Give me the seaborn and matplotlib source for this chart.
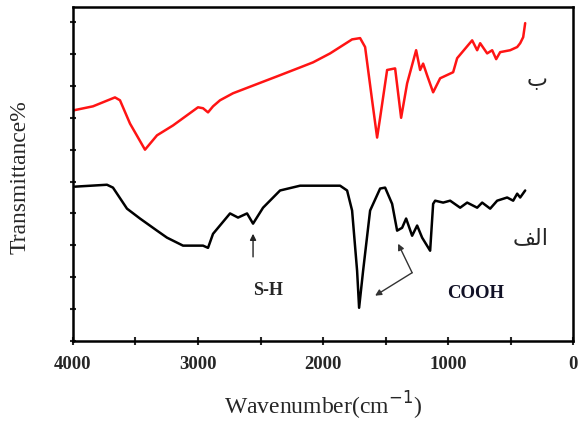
import numpy as np
import pandas as pd
import matplotlib
matplotlib.use("Agg")
import matplotlib.pyplot as plt
import seaborn as sns

# spectrum (b) - red, upper
red_wn = [4000, 3840, 3664, 3624, 3544, 3424, 3328, 3200, 3000, 2960, 2920, 2880,
          2824, 2720, 2448, 2368, 2184, 2080, 1944, 1768, 1704, 1664, 1608, 1568,
          1544, 1488, 1424, 1376, 1328, 1256, 1224, 1200, 1168, 1120, 1064, 960,
          928, 808, 768, 744, 688, 648, 616, 584, 504, 448, 424, 400, 384]
red_t = [72.3, 73.6, 76.4, 75.5, 68.2, 60.0, 64.5, 67.6, 73.3, 73.0, 71.7, 73.6,
         75.5, 77.7, 81.8, 83.0, 85.8, 87.4, 90.2, 94.6, 95.0, 92.2, 75.5, 63.8,
         70.0, 85.0, 85.5, 70.0, 80.8, 91.2, 85.0, 87.0, 83.3, 78.0, 82.4, 84.3,
         88.7, 94.3, 91.2, 93.4, 90.2, 91.2, 88.4, 90.6, 91.2, 92.2, 93.4, 95.3, 99.7]

# spectrum (a) - black, lower
blk_wn = [3984, 3728, 3680, 3568, 3464, 3328, 3248, 3120, 2960, 2920, 2880, 2744,
          2680, 2608, 2560, 2480, 2344, 2184, 1864, 1808, 1768, 1728, 1712, 1680,
          1624, 1544, 1504, 1448, 1408, 1368, 1336, 1288, 1248, 1208, 1144, 1120,
          1104, 1040, 984, 904, 848, 768, 728, 664, 608, 528, 480, 448, 424, 384]
blk_t = [48.4, 49.0, 48.1, 41.5, 38.4, 34.6, 32.4, 29.9, 29.9, 29.2, 33.6, 40.0,
         38.7, 40.0, 36.8, 41.8, 47.2, 48.7, 48.7, 47.2, 40.9, 22.0, 10.4, 22.0,
         40.9, 47.8, 48.1, 43.0, 34.6, 35.5, 38.4, 33.0, 36.2, 32.4, 28.3, 43.0,
         44.0, 43.4, 44.0, 41.8, 43.4, 41.8, 43.4, 41.5, 44.0, 45.0, 44.0, 46.2, 45.0, 47.2]

x_ticks = [4000, 3000, 2000, 1000, 0]

red_df = pd.DataFrame({"wn": red_wn, "t": red_t})
blk_df = pd.DataFrame({"wn": blk_wn, "t": blk_t})

sns.set_style("ticks")
plt.rcParams["font.family"] = ["Liberation Serif", "DejaVu Serif"]

fig = plt.figure(figsize=(5.79, 4.23), dpi=100)
ax = fig.add_axes([0.126, 0.194, 0.864, 0.789])

sns.lineplot(data=red_df, x="wn", y="t", color="#ff1414", lw=1.8, ax=ax)
sns.lineplot(data=blk_df, x="wn", y="t", color="black", lw=1.8, ax=ax)

ax.set_xlim(4000, 0)
ax.set_ylim(0, 104.7)
ax.set_xticks(x_ticks)
ax.set_xticks(np.arange(500, 4000, 1000), minor=True)
ax.set_yticks(np.arange(0, 101, 10))
ax.set_yticklabels([])
ax.tick_params(axis="x", which="both", direction="inout", length=6, width=1.5,
               labelsize=13.5, pad=8)
ax.tick_params(axis="y", direction="inout", length=4, width=1.5)
for lbl in ax.get_xticklabels():
    lbl.set_fontweight("bold")
for sp in ax.spines.values():
    sp.set_visible(True)
    sp.set_linewidth(1.8)
    sp.set_color("black")

ax.set_xlabel("Wavenumber(cm$^{-1}$)", fontsize=17, labelpad=12)
ax.set_ylabel("Transmittance%", fontsize=17)
ax.yaxis.set_label_coords(-0.085, 0.49)

# Arabic labels (visual order, presentation forms)
ax.text(288, 81.8, "ب", family="DejaVu Sans", fontsize=16, ha="center", va="center")
ax.text(344, 32.4, "\ufed2\ufedf\ufe8d", family="DejaVu Sans", fontsize=16,
        ha="center", va="center")

ax.text(2440, 15.7, "S-H", fontsize=13, fontweight="bold", ha="center", va="center")
ax.annotate("", xy=(2560, 34.5), xytext=(2560, 25.5),
            arrowprops=dict(arrowstyle="-|>", lw=1, color="#222222", mutation_scale=9))

ax.text(784, 14.8, "COOH", fontsize=13.5, fontweight="bold", ha="center", va="center",
        color="#111126")
ax.annotate("", xy=(1400, 30.5), xytext=(1288, 21.4),
            arrowprops=dict(arrowstyle="-|>", lw=1, color="#333333", mutation_scale=9,
                            shrinkA=0, shrinkB=0))
ax.annotate("", xy=(1584, 14.2), xytext=(1288, 21.4),
            arrowprops=dict(arrowstyle="-|>", lw=1, color="#333333", mutation_scale=9,
                            shrinkA=0, shrinkB=0))

fig.savefig("out.png", dpi=100)
